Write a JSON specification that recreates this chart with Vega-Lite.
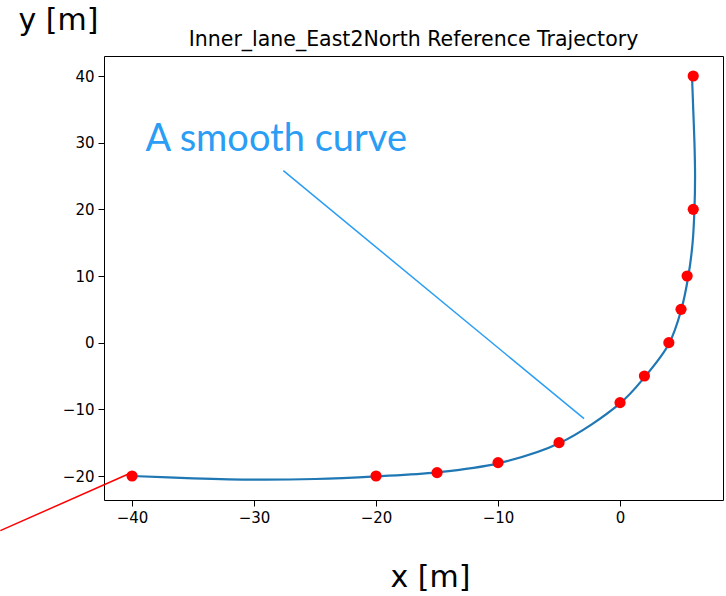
{
  "$schema": "https://vega.github.io/schema/vega-lite/v6.json",
  "width": 619,
  "height": 444,
  "autosize": {"type": "none"},
  "padding": {"left": 104, "top": 56, "right": 3, "bottom": 96},
  "background": "white",
  "title": {
    "text": "Inner_lane_East2North Reference Trajectory",
    "font": "DejaVu Sans",
    "fontSize": 20.5,
    "fontWeight": "normal",
    "color": "#000000",
    "anchor": "middle",
    "offset": 9,
    "dy": 54
  },
  "config": {
    "view": {"stroke": "#000000", "strokeWidth": 1},
    "axis": {
      "grid": false,
      "domain": false,
      "tickColor": "#000000",
      "tickSize": 6,
      "labelFont": "DejaVu Sans",
      "labelFontSize": 15,
      "labelColor": "#000000",
      "labelPadding": 4,
      "titleFont": "DejaVu Sans",
      "titleFontWeight": "normal",
      "titleColor": "#000000"
    }
  },
  "datasets": {
    "pts": [
      {"x": -40, "y": -20},
      {"x": -20, "y": -20},
      {"x": -15, "y": -19.5},
      {"x": -10, "y": -18},
      {"x": -5, "y": -15},
      {"x": 0, "y": -9},
      {"x": 2, "y": -5},
      {"x": 4, "y": 0},
      {"x": 5, "y": 5},
      {"x": 5.5, "y": 10},
      {"x": 6, "y": 20},
      {"x": 6, "y": 40}
    ],
    "curve": [
      {"i": 0, "x": -40, "y": -20},
      {"i": 1, "x": -35, "y": -20.35},
      {"i": 2, "x": -30, "y": -20.55},
      {"i": 3, "x": -25, "y": -20.45},
      {"i": 4, "x": -20, "y": -20.05},
      {"i": 5, "x": -15, "y": -19.45},
      {"i": 6, "x": -10, "y": -18.1},
      {"i": 7, "x": -5, "y": -15.1},
      {"i": 9, "x": 0, "y": -9.1},
      {"i": 10, "x": 2, "y": -5.2},
      {"i": 11, "x": 4, "y": -0.2},
      {"i": 12, "x": 5, "y": 4.8},
      {"i": 13, "x": 5.6, "y": 10},
      {"i": 14, "x": 5.95, "y": 15},
      {"i": 15, "x": 6.1, "y": 20},
      {"i": 16, "x": 6.15, "y": 25},
      {"i": 17, "x": 6.1, "y": 30},
      {"i": 18, "x": 6.0, "y": 35},
      {"i": 19, "x": 5.9, "y": 40}
    ],
    "arrows": [
      {"x": -27.6, "y": 25.8, "x2": -2.95, "y2": -11.4, "c": "blue"},
      {"x": -50.8, "y": -28.2, "x2": -40.3, "y2": -19.7, "c": "red"}
    ],
    "label": [
      {"x": -38.9, "y": 28.8, "t": "A smooth curve"}
    ]
  },
  "layer": [
    {
      "data": {"name": "curve"},
      "mark": {"type": "line", "interpolate": "catmull-rom", "color": "#1f77b4", "strokeWidth": 2.2},
      "encoding": {
        "x": {
          "field": "x", "type": "quantitative",
          "scale": {"domain": [-42.3, 8.44], "nice": false, "zero": false},
          "axis": {
            "values": [-40, -30, -20, -10, 0],
            "labelExpr": "replace(datum.label, '-', '−')",
            "title": "x [m]",
            "titleFontSize": 30,
            "titleX": 326,
            "titleY": 77,
            "titleAlign": "center",
            "titleBaseline": "middle"
          }
        },
        "y": {
          "field": "y", "type": "quantitative",
          "scale": {"domain": [-23.6, 43.0], "nice": false, "zero": false},
          "axis": {
            "values": [-20, -10, 0, 10, 20, 30, 40],
            "labelExpr": "replace(datum.label, '-', '−')",
            "title": "y [m]",
            "titleFontSize": 30,
            "titleAngle": 0,
            "titleX": -46,
            "titleY": -36,
            "titleAlign": "center",
            "titleBaseline": "middle"
          }
        },
        "order": {"field": "i", "type": "quantitative"}
      }
    },
    {
      "data": {"name": "pts"},
      "mark": {"type": "circle", "color": "#ff0000", "opacity": 1, "size": 125},
      "encoding": {
        "x": {"field": "x", "type": "quantitative"},
        "y": {"field": "y", "type": "quantitative"}
      }
    },
    {
      "data": {"name": "arrows"},
      "mark": {"type": "rule", "strokeWidth": 1.5, "clip": false},
      "encoding": {
        "x": {"field": "x", "type": "quantitative"},
        "y": {"field": "y", "type": "quantitative"},
        "x2": {"field": "x2"},
        "y2": {"field": "y2"},
        "color": {
          "field": "c", "type": "nominal",
          "scale": {"domain": ["blue", "red"], "range": ["#2a9df4", "#ff0000"]},
          "legend": null
        }
      }
    },
    {
      "data": {"name": "label"},
      "mark": {"type": "text", "font": "Lato", "fontSize": 38, "color": "#2a9df4", "align": "left", "baseline": "alphabetic"},
      "encoding": {
        "x": {"field": "x", "type": "quantitative"},
        "y": {"field": "y", "type": "quantitative"},
        "text": {"field": "t"}
      }
    }
  ]
}
